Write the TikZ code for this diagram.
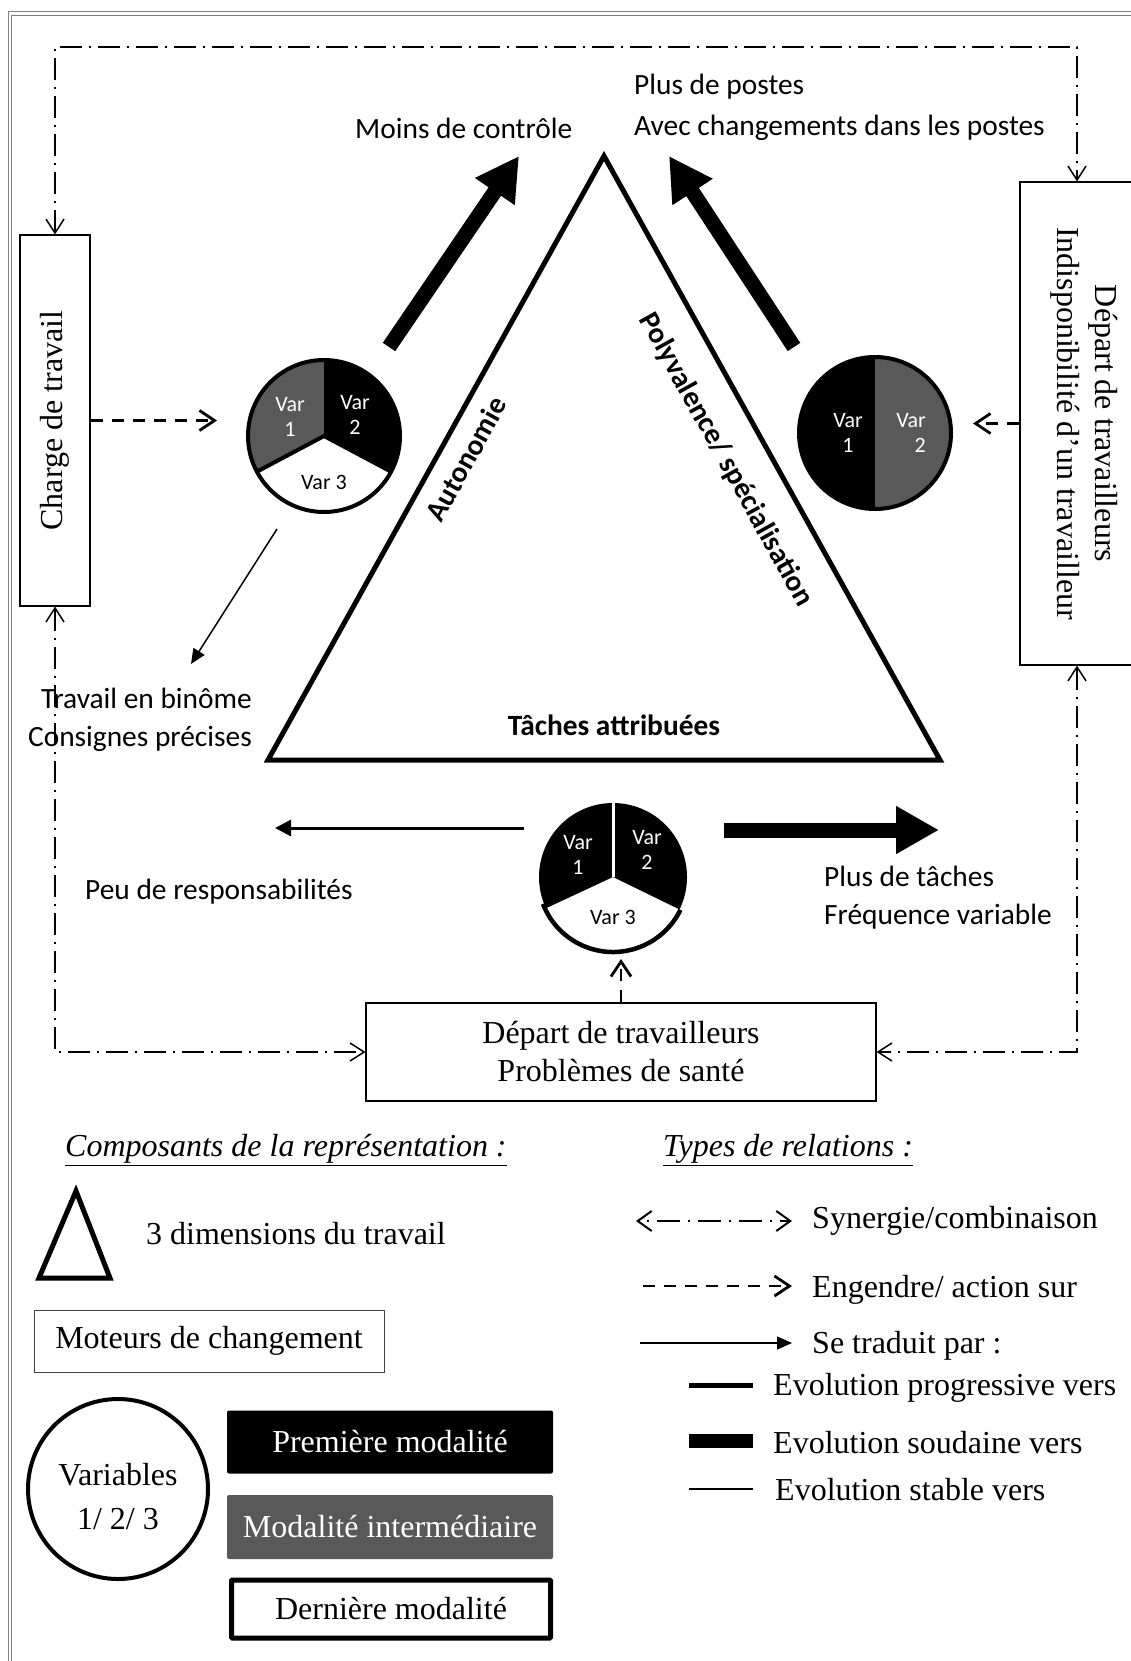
\documentclass[tikz,border=0pt]{standalone}
\usepackage{fontspec}
\setmainfont{Liberation Serif}
\newfontfamily\calfont{Carlito}
\usetikzlibrary{arrows.meta}
\newcommand{\calT}{\calfont\fontsize{29.4}{41}\selectfont}
\newcommand{\pieT}{\calfont\fontsize{22}{25}\selectfont}
\newcommand{\serT}{\fontsize{32}{38}\selectfont}
\definecolor{midgray}{HTML}{595959}
\begin{document}
\begin{tikzpicture}[x=1pt,y=1pt,
  box/.style={draw, line width=1.1pt, inner sep=0pt},
  syn/.style={line width=1.5pt, dash pattern=on 22pt off 7pt on 2pt off 7pt},
  synarr/.style={syn, {Straight Barb[length=14pt,width=18pt]}-{Straight Barb[length=14pt,width=18pt]}},
  eng/.style={line width=2.8pt, dash pattern=on 12pt off 9pt, -{Straight Barb[length=15pt,width=20pt]}},
  thin/.style={line width=1.5pt, -{Triangle[length=15pt,width=13pt]}},
  medium/.style={line width=3pt, -{Triangle[length=16pt,width=16pt]}},
  thick/.style={line width=15pt, -{Triangle[length=43pt,width=45pt]}},
  pie/.style={circle, draw, line width=4pt, inner sep=0pt},
  pietxt/.style={font=\pieT, align=center, inner sep=0pt},
  ctxt/.style={font=\calT, inner sep=0pt},
  stxt/.style={font=\serT, inner sep=0pt}]
\useasboundingbox (0,0) rectangle (1131,-1661);
\clip (0,0) rectangle (1131,-1661);
\fill[white] (0,0) rectangle (1131,-1661);
% outer frame
\draw[gray, line width=1pt] (8,-1700) -- (8,-12) -- (1200,-12);
\draw[gray, line width=1pt] (11.5,-1700) -- (11.5,-15.5) -- (1200,-15.5);

% boxes
\node[box, minimum width=70pt, minimum height=371pt] (cbox) at (55,-420.5) {};
\node[stxt, rotate=90] (ctext) at (cbox.center) {Charge de travail};
\node[box, minimum width=130pt, minimum height=483pt] (rbox) at (1085,-423.5) {};
\node[stxt, rotate=-90, align=center] (rtext) at (1084,-423.5) {Départ de travailleurs\\Indisponibilité d’un travailleur};
\node[box, minimum width=510pt, minimum height=98pt, align=center, font=\serT] (bbox) at (621,-1052) {Départ de travailleurs\\Problèmes de santé};

% synergy paths
\coordinate (tl) at (55,-47);
\coordinate (tr) at (1077,-47);
\coordinate (bl) at (55,-1052);
\coordinate (br) at (1077,-1052);
\draw[synarr] (cbox.north) -- (tl) -- (tr) -- (tr |- rbox.north);
\draw[synarr] (cbox.south) -- (bl) -- (bbox.west);
\draw[synarr] (tr |- rbox.south) -- (br) -- (bbox.east);

% triangle
\coordinate (tA) at (604,-156);
\coordinate (tB) at (268,-760);
\coordinate (tC) at (940,-760);
\draw[line width=5pt, line join=miter] (tA) -- (tB) -- (tC) -- cycle;
\node[ctxt, font=\calT\bfseries, rotate=61] (auto) at (466,-459) {Autonomie};
\node[ctxt, font=\calT\bfseries, rotate=-61] (poly) at (726,-460) {Polyvalence/ spécialisation};
\node[ctxt, font=\calT\bfseries] (taches) at (614,-725) {Tâches attribuées};

% left pie
\coordinate (LC) at (324,-436);
\fill[midgray] (LC) -- ++(90:76) arc[start angle=90, end angle=208, radius=76] -- cycle;
\fill[black] (LC) -- ++(-28:76) arc[start angle=-28, end angle=90, radius=76] -- cycle;
\draw[line width=4pt] (LC) ++(208:76) -- (LC) -- ++(-28:76);
\node[pie, minimum size=152pt] (lpie) at (LC) {};
\node[pietxt, white] (l1) at ([shift={(-34,19)}]LC) {Var\\1};
\node[pietxt, white] (l2) at ([shift={(31,21)}]LC) {Var\\2};
\node[pietxt] (l3) at ([shift={(0,-46)}]LC) {Var 3};

% right pie
\coordinate (RC) at (875,-433);
\fill[black] (RC) ++(90:76) arc[start angle=90, end angle=270, radius=76] -- cycle;
\fill[midgray] (RC) ++(-90:76) arc[start angle=-90, end angle=90, radius=76] -- cycle;
\node[pie, minimum size=152pt] (rpie) at (RC) {};
\node[pietxt, white] (r1) at ([shift={(-27,0)}]RC) {Var\\1};
\node[pietxt, white, align=right] (r2) at ([shift={(36,0)}]RC) {Var\\2};

% bottom pie
\coordinate (BC) at (613,-877);
\fill[black] (BC) -- ++(90:74) arc[start angle=90, end angle=205, radius=74] -- cycle;
\fill[black] (BC) -- ++(-26:74) arc[start angle=-26, end angle=90, radius=74] -- cycle;
\draw[white, line width=3pt] (BC) -- ++(90:77);
\draw[line width=4.5pt] (BC) ++(201:75) arc[start angle=201, end angle=334, radius=75];
\node[circle, minimum size=150pt, inner sep=0pt] (bpie) at (BC) {};
\node[pietxt, white] (b1) at ([shift={(-35,22)}]BC) {Var\\1};
\node[pietxt, white] (b2) at ([shift={(34,27)}]BC) {Var\\2};
\node[pietxt] (b3) at ([shift={(0,-40)}]BC) {Var 3};

% dashed (engendre) arrows
\coordinate (lpin) at (217,-420.5);
\coordinate (rpin) at (973,-423.5);
\coordinate (bpin) at (621,-959);
\draw[eng] (cbox.east) -- (lpin);
\draw[eng] (rbox.west) -- (rpin);
\draw[eng] (bbox.north) -- (bpin);

% evolution arrows
\coordinate (a1s) at (389,-347); \coordinate (a1e) at (519,-156);
\coordinate (a2s) at (794,-347); \coordinate (a2e) at (669,-156);
\coordinate (a3s) at (724,-830); \coordinate (a3e) at (939,-830);
\coordinate (a4s) at (524,-828); \coordinate (a4e) at (275,-828);
\coordinate (a5s) at (277,-529); \coordinate (a5e) at (191,-664);
\draw[thick] (a1s) -- (a1e);
\draw[thick] (a2s) -- (a2e);
\draw[thick] (a3s) -- (a3e);
\draw[medium] (a4s) -- (a4e);
\draw[thin] (a5s) -- (a5e);

% texts
\node[ctxt, anchor=west] (t1) at (634,-87) {Plus de postes};
\node[ctxt, anchor=west] (t2) at (634,-128) {Avec changements dans les postes};
\node[ctxt, anchor=west] (t3) at (355,-128) {Moins de contrôle};
\node[ctxt, anchor=east] (t4) at (252,-698) {Travail en binôme};
\node[ctxt, anchor=east] (t5) at (252,-739) {Consignes précises};
\node[ctxt, anchor=west] (t6) at (85,-892) {Peu de responsabilités};
\node[ctxt, anchor=west] (t7) at (824,-876) {Plus de tâches};
\node[ctxt, anchor=west] (t8) at (824,-917) {Fréquence variable};

% legend left
\node[stxt, anchor=west] (lg1) at (65,-1150) {\underline{\textit{Composants de la représentation :}}};
\node[stxt, anchor=west] (lg2) at (663,-1150) {\underline{\textit{Types de relations :}}};
\draw[line width=5pt, line join=miter] (76,-1191) -- (39,-1278) -- (110,-1278) -- cycle;
\node[stxt, anchor=west] (lg3) at (146,-1234) {3 dimensions du travail};
\node[box, draw=darkgray, line width=1pt, minimum width=350pt, minimum height=62pt, font=\serT] (lgm) at (209,-1341) {Moteurs de changement};
\node[circle, draw, line width=4pt, minimum size=180pt, inner sep=0pt] (lgv) at (118,-1489) {};
\node[align=center, inner sep=0pt, font=\fontsize{32}{44}\selectfont] (lgvt) at (118,-1497) {Variables\\1/ 2/ 3};
\node[fill=black, text=white, rounded corners=2pt, minimum width=326pt, minimum height=63pt, inner sep=0pt, font=\serT] (lgp) at (390,-1442) {Première modalité};
\node[fill=midgray, text=white, rounded corners=2pt, minimum width=326pt, minimum height=64pt, inner sep=0pt, font=\serT] (lgi) at (390,-1527) {Modalité intermédiaire};
\node[draw, line width=5pt, rounded corners=1pt, minimum width=319pt, minimum height=58pt, inner sep=0pt, font=\serT] (lgd) at (391,-1609) {Dernière modalité};

% legend right
\coordinate (s1a) at (636,-1221); \coordinate (s1b) at (792,-1221);
\coordinate (s2a) at (643,-1286); \coordinate (s2b) at (792,-1286);
\coordinate (s3a) at (640,-1343); \coordinate (s3b) at (792,-1343);
\draw[line width=2pt, dash pattern=on 23pt off 8pt on 2pt off 8pt, dash phase=23pt, {Straight Barb[length=14pt,width=20pt]}-{Straight Barb[length=14pt,width=20pt]}] (s1a) -- (s1b);
\draw[eng] (s2a) -- (s2b);
\draw[thin] (s3a) -- (s3b);
\node[stxt, anchor=west] (r1t) at (812,-1221) {Synergie/combinaison};
\node[stxt, anchor=west] (r2t) at (812,-1290) {Engendre/ action sur};
\node[stxt, anchor=west] (r3t) at (812,-1346) {Se traduit par :};
\coordinate (e1a) at (689,-1385); \coordinate (e1b) at (753,-1385);
\coordinate (e2a) at (689,-1441); \coordinate (e2b) at (753,-1441);
\coordinate (e3a) at (689,-1489); \coordinate (e3b) at (753,-1489);
\draw[line width=5pt] (e1a) -- (e1b);
\draw[line width=14pt] (e2a) -- (e2b);
\draw[line width=2pt] (e3a) -- (e3b);
\node[stxt, anchor=west] (e1t) at (773,-1388) {Evolution progressive vers};
\node[stxt, anchor=west] (e2t) at (773,-1443) {Evolution soudaine vers};
\node[stxt, anchor=west] (e3t) at (775,-1490) {Evolution stable vers};
\end{tikzpicture}
\end{document}
